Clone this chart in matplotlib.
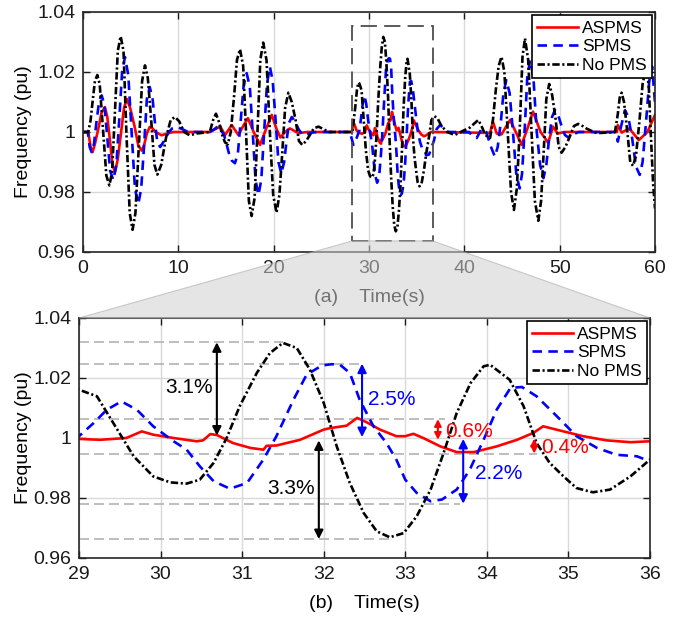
import matplotlib
matplotlib.use('Agg')
import matplotlib.pyplot as plt
import numpy as np
from matplotlib.patches import Polygon, Rectangle

plt.rcParams['font.family'] = ['Liberation Sans', 'DejaVu Sans']

# (time s, frequency pu)
aspms = [
    (0, 1.0), (0.55, 1.0), (0.8, 0.995), (1.0, 0.9933), (1.25, 0.996), (1.6, 1.001),
    (1.95, 1.0065), (2.3, 1.0083), (2.55, 1.005), (2.8, 0.998), (3.1, 0.989),
    (3.36, 0.9867), (3.65, 0.991), (4.0, 1.0), (4.3, 1.008), (4.6, 1.011), (4.95, 1.008),
    (5.4, 1.002), (5.8, 0.9955), (6.15, 0.9938), (6.4, 0.9955), (6.7, 0.9995),
    (7.0, 1.0017), (7.3, 1.0012), (7.6, 1.0), (8.25, 0.9989), (8.8, 0.9995), (9.5, 1.0),
    (13.3, 1.0), (14.4, 1.0018), (14.9, 0.999), (15.6, 1.0023), (16.3, 0.999),
    (16.8, 1.002), (17.3, 1.0046), (17.9, 1.0), (18.57, 0.9957), (19.2, 1.001),
    (19.8, 1.0057), (20.3, 1.001), (20.7, 0.9982), (21.2, 1.0), (21.7, 1.0012),
    (22.6, 0.9996), (23.5, 1.0), (28.2, 1.0), (28.36, 1.0034), (28.7, 1.0005),
    (29.0, 0.9997), (29.26, 0.9994), (29.58, 1.0), (29.77, 1.0022), (29.91, 1.0011),
    (30.16, 1.0), (30.44, 0.9989), (30.52, 0.9992), (30.61, 1.0013), (30.69, 1.001),
    (30.89, 0.9983), (31.1, 0.9967), (31.26, 0.9961), (31.3, 0.9974), (31.42, 0.9975),
    (31.71, 0.9994), (32.0, 1.0028), (32.08, 1.0033), (32.28, 1.0041), (32.41, 1.0067),
    (32.53, 1.0052), (32.69, 1.0028), (32.89, 1.0006), (33.0, 1.0006), (33.1, 1.0014),
    (33.22, 1.0), (33.43, 0.9972), (33.63, 0.9953), (33.84, 0.9953), (34.12, 0.9972),
    (34.37, 0.9994), (34.57, 1.0017), (34.69, 1.0039), (34.94, 1.0022), (35.18, 1.0006),
    (35.47, 0.9992), (35.76, 0.9986), (36.0, 0.9989), (36.5, 1.0), (42.7, 0.9997),
    (43.0, 1.0034), (43.4, 0.9995), (43.9, 0.9992), (44.8, 1.004), (45.4, 1.0),
    (46.0, 0.9957), (46.6, 1.001), (47.2, 1.0068), (48.0, 1.0), (48.8, 0.9964),
    (49.3, 1.0018), (49.8, 0.9995), (50.5, 1.0), (56.0, 1.0), (56.1, 1.0023),
    (56.5, 0.9998), (57.3, 1.0012), (58.3, 0.9973), (59.2, 1.0), (60.0, 1.0057),
]
spms = [
    (0, 1.0), (0.5, 1.0), (0.7, 0.995), (0.9, 0.9933), (1.15, 0.996), (1.4, 1.003),
    (1.7, 1.0105), (1.96, 1.0122), (2.25, 1.009), (2.55, 0.998), (2.85, 0.987),
    (3.18, 0.984), (3.5, 0.989), (3.8, 1.004), (4.1, 1.02), (4.4, 1.025), (4.75, 1.019),
    (5.1, 1.0), (5.45, 0.981), (5.8, 0.976), (6.1, 0.981), (6.4, 0.995), (6.7, 1.011),
    (7.0, 1.015), (7.3, 1.011), (7.55, 1.003), (7.8, 0.9965), (8.1, 0.995), (8.5, 0.997),
    (9.0, 1.0), (9.4, 1.0013), (9.8, 1.0017), (10.4, 1.001), (11.0, 1.0),
    (13.3, 1.0), (13.8, 1.001), (14.2, 1.002), (14.5, 1.0005), (14.8, 0.999),
    (15.3, 0.993), (15.6, 0.9905), (15.94, 0.9896), (16.25, 0.993), (16.55, 1.004),
    (16.85, 1.0155), (17.17, 1.0196), (17.5, 1.015), (17.8, 1.0), (18.1, 0.984),
    (18.4, 0.979), (18.7, 0.984), (19.0, 1.0), (19.3, 1.016), (19.6, 1.0218),
    (19.9, 1.017), (20.2, 1.004), (20.5, 0.99), (20.8, 0.9862), (21.1, 0.99),
    (21.35, 0.997), (21.6, 1.003), (21.9, 1.005), (22.25, 1.0035), (22.6, 1.001),
    (23.0, 0.9992), (23.3, 0.999), (24.0, 0.9998), (24.5, 1.0), (28.0, 1.0),
    (28.36, 0.9957), (28.7, 0.998), (29.0, 1.0006), (29.18, 1.005), (29.34, 1.0094),
    (29.52, 1.0122), (29.71, 1.0094), (29.91, 1.0039), (30.16, 0.9989), (30.32, 0.9961),
    (30.48, 0.9906), (30.65, 0.9856), (30.85, 0.9831), (31.06, 0.985), (31.26, 0.9928),
    (31.42, 1.0006), (31.63, 1.0128), (31.79, 1.0211), (31.98, 1.0242), (32.1, 1.0246),
    (32.2, 1.0244), (32.32, 1.0217), (32.44, 1.0128), (32.61, 1.0039), (32.77, 0.9983),
    (32.89, 0.9928), (33.0, 0.9861), (33.14, 0.9817), (33.31, 0.9789), (33.45, 0.9795),
    (33.63, 0.9828), (33.79, 0.9894), (33.96, 0.9994), (34.12, 1.0094), (34.29, 1.0167),
    (34.43, 1.017), (34.61, 1.0139), (34.86, 1.0072), (35.1, 1.0006), (35.35, 0.9967),
    (35.59, 0.9944), (35.84, 0.9939), (36.0, 0.9922), (36.3, 0.9925), (36.8, 0.997),
    (37.1, 1.001), (37.45, 1.0023), (37.8, 1.0015), (38.3, 1.0), (40.5, 1.0),
    (40.9, 0.9985), (41.3, 0.998), (41.8, 1.001), (42.3, 1.0), (42.8, 0.995),
    (43.2, 0.9918), (43.5, 0.995), (43.85, 1.004), (44.1, 1.013), (44.4, 1.0173),
    (44.75, 1.013), (45.1, 1.0), (45.45, 0.986), (45.8, 0.9812), (46.05, 0.986),
    (46.35, 1.002), (46.6, 1.018), (46.9, 1.024), (47.25, 1.018), (47.6, 1.0),
    (47.95, 0.989), (48.3, 0.9846), (48.6, 0.989), (48.9, 0.998), (49.2, 1.005),
    (49.5, 1.0073), (49.85, 1.0055), (50.2, 1.002), (50.55, 0.999), (50.9, 0.9982),
    (51.4, 0.9992), (52.0, 1.0), (55.9, 1.0), (56.1, 0.9968), (56.45, 1.002),
    (56.85, 1.0073), (57.2, 1.005), (57.6, 0.998), (58.0, 0.9885), (58.4, 0.9857),
    (58.7, 0.99), (59.05, 1.003), (59.4, 1.017), (59.7, 1.0218), (60.0, 1.0097),
]
nopms = [
    (0, 1.0), (0.55, 1.0), (0.8, 1.004), (1.0, 1.01), (1.25, 1.017), (1.5, 1.019),
    (1.75, 1.016), (2.1, 1.001), (2.45, 0.9855), (2.76, 0.9822), (3.05, 0.9865),
    (3.35, 1.007), (3.65, 1.027), (3.95, 1.0319), (4.25, 1.027), (4.55, 1.0),
    (4.9, 0.973), (5.2, 0.9674), (5.5, 0.973), (5.85, 0.995), (6.2, 1.017), (6.5, 1.0222),
    (6.8, 1.018), (7.15, 1.004), (7.5, 0.989), (7.8, 0.9858), (8.2, 0.989), (8.7, 0.998),
    (9.2, 1.004), (9.65, 1.005), (10.1, 1.0035), (10.6, 1.0), (11.2, 0.9989),
    (11.9, 0.9995), (13.3, 1.0), (13.65, 1.004), (13.95, 1.0061), (14.3, 1.003),
    (14.6, 0.999), (14.9, 0.9965), (15.2, 0.996), (15.5, 1.0), (15.85, 1.012),
    (16.15, 1.024), (16.47, 1.0276), (16.8, 1.022), (17.1, 1.0), (17.4, 0.977),
    (17.69, 0.972), (18.0, 0.978), (18.3, 1.0), (18.6, 1.024), (18.9, 1.0298),
    (19.25, 1.024), (19.6, 1.0), (19.95, 0.979), (20.3, 0.9731), (20.6, 0.979),
    (20.9, 0.993), (21.2, 1.008), (21.54, 1.0131), (21.9, 1.01), (22.3, 1.004),
    (22.65, 0.997), (23.0, 0.9957), (23.4, 0.997), (23.8, 0.999), (24.2, 1.0012),
    (24.7, 1.0018), (25.2, 1.001), (25.8, 1.0), (28.25, 1.0), (28.55, 1.008),
    (28.75, 1.0145), (28.9, 1.0165), (29.0, 1.0161), (29.22, 1.0139), (29.42, 1.005),
    (29.67, 0.9939), (29.91, 0.9872), (30.12, 0.9852), (30.32, 0.9848), (30.48, 0.9861),
    (30.65, 0.9917), (30.81, 1.0), (30.97, 1.0106), (31.18, 1.0217), (31.34, 1.0283),
    (31.5, 1.0317), (31.67, 1.030), (31.83, 1.0228), (32.0, 1.0117), (32.16, 0.9972),
    (32.32, 0.985), (32.49, 0.975), (32.65, 0.9689), (32.81, 0.9669), (32.98, 0.9683),
    (33.14, 0.9739), (33.31, 0.9828), (33.47, 0.995), (33.63, 1.0083), (33.8, 1.0183),
    (33.96, 1.0239), (34.04, 1.0244), (34.28, 1.0194), (34.45, 1.0106), (34.61, 0.9983),
    (34.77, 0.9917), (34.94, 0.9872), (35.1, 0.9833), (35.3, 0.9819), (35.51, 0.9828),
    (35.76, 0.9872), (36.0, 0.9928), (36.3, 0.9985), (36.55, 1.004), (36.85, 1.0053),
    (37.2, 1.0045), (37.6, 1.002), (38.2, 1.0), (39.0, 0.999), (39.8, 1.0003),
    (40.6, 1.0015), (41.1, 1.003), (41.47, 1.004), (41.8, 1.002), (42.2, 0.999),
    (42.7, 0.998), (43.0, 1.004), (43.3, 1.014), (43.6, 1.022), (43.9, 1.0251),
    (44.2, 1.02), (44.55, 1.0), (44.9, 0.98), (45.2, 0.974), (45.5, 0.981), (45.8, 1.0),
    (46.1, 1.025), (46.36, 1.0312), (46.7, 1.024), (47.05, 1.0), (47.4, 0.977),
    (47.76, 0.9704), (48.05, 0.977), (48.35, 0.995), (48.6, 1.011), (48.9, 1.016),
    (49.2, 1.0125), (49.55, 1.005), (49.9, 0.995), (50.2, 0.9931), (50.6, 0.995),
    (51.0, 0.998), (51.5, 1.002), (51.95, 1.0027), (52.4, 1.002), (52.9, 1.001),
    (53.9, 0.9996), (55.8, 1.0), (56.1, 1.006), (56.3, 1.0115), (56.5, 1.0131),
    (56.75, 1.01), (57.1, 1.0), (57.4, 0.99), (57.7, 0.9887), (58.0, 0.992),
    (58.35, 1.003), (58.7, 1.016), (59.1, 1.022), (59.35, 1.015), (59.55, 1.0),
    (59.8, 0.983), (60.0, 0.9745),
]

series_labels = ['ASPMS', 'SPMS', 'No PMS']
y_ticks = [0.96, 0.98, 1.0, 1.02, 1.04]
y_ticklabels = ['0.96', '0.98', '1', '1.02', '1.04']
top_xticks = [0, 10, 20, 30, 40, 50, 60]
bot_xticks = [29, 30, 31, 32, 33, 34, 35, 36]

# zoom window marked on the upper plot
zoom_t = (28.25, 36.68)
zoom_f = (0.9637, 1.0353)

# grey guide levels in the lower plot and where they stop
ref_levels = [1.0319, 1.0248, 1.0063, 0.9948, 0.9781, 0.9663]
ref_ends = [31.5, 32.47, 33.49, 34.61, 33.67, 32.81]

# deviation arrows and their labels
arrow_t = [30.69, 31.94, 32.47, 33.71, 33.40, 34.58]
arrow_from = [1.0008, 0.9992, 1.0003, 0.9997, 0.9994, 0.9998]
arrow_to = [1.0319, 0.9663, 1.0248, 0.9781, 1.0063, 0.9948]
pct_labels = ['3.1%', '3.3%', '2.5%', '2.2%', '0.6%', '0.4%']
pct_t = [30.64, 31.89, 32.54, 33.85, 33.49, 34.66]
pct_f = [1.017, 0.9833, 1.013, 0.9883, 1.0022, 0.9967]

styles = [
    dict(color='red', lw=1.9, ls='-'),
    dict(color='blue', lw=1.9, ls=(0, (3.6, 2.4))),
    dict(color='black', lw=1.9, ls=(0, (2.8, 1.0, 0.8, 1.0))),
]
arrow_colors = ['black', 'black', 'blue', 'blue', 'red', 'red']
arrow_ha = ['right', 'right', 'left', 'left', 'left', 'left']
arrow_heads = [13, 13, 13, 13, 10, 10]


def draw_panel(ax, xlim, xticks, xlabel):
    for data, lab, sty in zip([aspms, spms, nopms], series_labels, styles):
        t, f = np.array(data).T
        ax.plot(t, f, label=lab, **sty)
    ax.set_xlim(*xlim)
    ax.set_ylim(0.96, 1.04)
    ax.set_xticks(xticks)
    ax.set_yticks(y_ticks)
    ax.set_yticklabels(y_ticklabels)
    ax.grid(True, color='0.85', lw=1.0)
    ax.set_axisbelow(True)
    ax.tick_params(direction='in', top=True, right=True, length=5, width=1.0,
                   labelsize=14, pad=5.5, colors='0.1')
    for sp in ax.spines.values():
        sp.set_linewidth(1.2)
        sp.set_color('0.15')
    ax.set_xlabel(xlabel, fontsize=14)
    ax.xaxis.label.set_va('center')
    ax.set_ylabel('Frequency (pu)', fontsize=14)
    leg = ax.legend(loc='upper right', fontsize=12.5, fancybox=False, framealpha=1,
                    edgecolor='black', borderaxespad=0.2, handlelength=2.35,
                    handletextpad=0.2, labelspacing=0.2, borderpad=0.3)
    leg.get_frame().set_linewidth(1.2)


fig = plt.figure(figsize=(6.74, 6.19), dpi=100)
W, H = 674, 619
ax_top = fig.add_axes([83 / W, 1 - 252 / H, 572 / W, 240 / H])
ax_bot = fig.add_axes([79 / W, 1 - 558 / H, 571 / W, 240 / H])

draw_panel(ax_top, (0, 60), top_xticks, '(a)    Time(s)')
draw_panel(ax_bot, (29, 36), bot_xticks, '(b)    Time(s)')
ax_top.xaxis.set_label_coords(0.5, -0.1875)
ax_bot.xaxis.set_label_coords(0.5, -0.1875)
ax_top.yaxis.set_label_coords(-0.089, 0.5)
ax_bot.yaxis.set_label_coords(-0.082, 0.5)

# dashed zoom window
ax_top.add_patch(Rectangle((zoom_t[0], zoom_f[0]), zoom_t[1] - zoom_t[0],
                           zoom_f[1] - zoom_f[0], fill=False, edgecolor='0.3',
                           lw=1.3, ls=(0, (9, 4)), zorder=5))

# grey guide lines and arrows in the zoomed plot
for lev, end in zip(ref_levels, ref_ends):
    ax_bot.plot([29, end], [lev, lev], color='0.7', lw=1.2, ls=(0, (6, 3)), zorder=1)
for t, a, b, c, hs in zip(arrow_t, arrow_from, arrow_to, arrow_colors, arrow_heads):
    ax_bot.annotate('', xy=(t, b), xytext=(t, a),
                    arrowprops=dict(arrowstyle='<|-|>', color=c, lw=1.5,
                                    mutation_scale=hs, shrinkA=0, shrinkB=0))
for lab, t, f, c, ha in zip(pct_labels, pct_t, pct_f, arrow_colors, arrow_ha):
    ax_bot.text(t, f, lab, color=c, fontsize=15, ha=ha, va='center')

# grey trapezoid linking the zoom window to the lower plot
to_fig = fig.transFigure.inverted()
p1 = to_fig.transform(ax_top.transData.transform((zoom_t[0], zoom_f[0])))
p2 = to_fig.transform(ax_top.transData.transform((zoom_t[1], zoom_f[0])))
p3 = to_fig.transform(ax_bot.transAxes.transform((1, 1)))
p4 = to_fig.transform(ax_bot.transAxes.transform((0, 1)))
fig.patches.append(Polygon([p1, p2, p3, p4], closed=True, transform=fig.transFigure,
                           facecolor='0.82', edgecolor='0.65', lw=0.8, alpha=0.55,
                           zorder=10))

fig.savefig('out.png', dpi=100)
